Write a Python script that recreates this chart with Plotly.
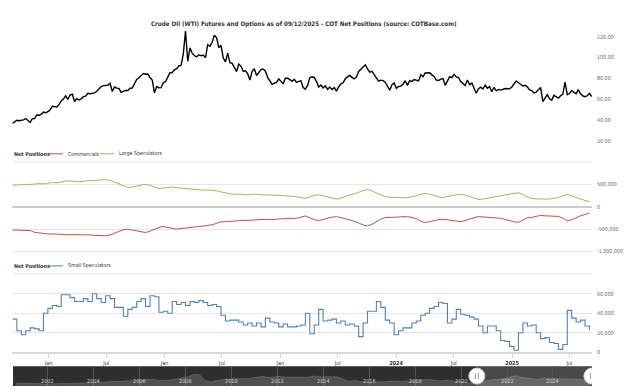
import pandas as pd
import plotly.graph_objects as go

# ---------------- data ----------------
# WTI price, weekly from 2020-09-08
PRICE = [
    36.8, 38.3, 39.8, 39.3, 39.6, 40.2, 41.5, 39.6, 37.7, 41.4, 41.4, 44.9, 44.6, 45.6, 47.6, 47.0, 48.0,
    49.9, 53.2, 52.9, 52.6, 54.8, 58.4, 60.1, 63.2, 59.8, 64.0, 64.8, 57.8, 60.6, 59.3, 60.2, 62.4, 62.9,
    65.7, 65.3, 65.5, 66.1, 67.7, 70.0, 72.1, 73.1, 73.5, 73.4, 75.3, 67.4, 71.7, 70.6, 70.4, 66.6, 67.5,
    68.5, 68.4, 70.5, 70.6, 75.3, 78.9, 80.6, 83.0, 84.7, 84.0, 84.2, 80.8, 78.5, 66.2, 72.1, 70.9, 71.1, 76.0,
    77.0, 81.2, 85.4, 85.6, 88.2, 89.4, 92.1, 92.4, 103.4, 125.5, 96.4, 109.3, 104.2, 102.0, 100.6, 102.6,
    101.7, 102.4, 99.8, 112.4, 110.8, 114.7, 121.5, 118.9, 109.5, 111.8, 99.5, 95.8, 104.2, 95.0, 94.4, 90.5,
    86.5, 93.7, 91.6, 86.9, 87.3, 84.5, 78.5, 86.5, 89.4, 82.8, 85.3, 88.4, 89.0, 86.9, 81.0, 78.2, 74.3,
    75.4, 76.2, 79.5,
    76.9, 75.1, 80.2, 80.1, 78.9, 77.1, 79.1, 76.2, 77.1, 77.6, 71.3, 69.7, 73.2, 80.7, 81.5, 80.9, 77.1,
    71.7, 73.7, 70.9, 72.9, 69.5, 71.7, 69.4, 71.2, 67.7, 71.8, 74.8, 75.8, 79.6, 81.4, 82.9, 81.0, 79.6,
    81.2, 86.7, 88.8, 91.2, 93.0, 89.2, 86.0, 86.7, 83.7, 81.0, 77.4, 78.3, 77.8, 76.4, 72.3, 68.6, 73.9, 75.6,
    70.4, 72.2, 72.6, 74.4, 77.8, 73.3, 77.9, 77.0, 78.9, 78.2, 77.6, 83.5, 81.6, 85.2, 85.2, 85.4, 83.4,
    81.9, 78.4, 78.0, 79.3, 79.8, 73.3, 78.0, 81.6, 80.8, 83.9, 81.4, 80.8, 77.0, 74.7, 73.2, 78.4, 74.0,
    75.5, 70.3, 65.8, 70.1, 71.6, 69.8, 73.6, 70.6, 72.1, 67.2, 71.5, 68.1, 69.4, 68.8, 69.9, 70.3, 70.1,
    70.1, 71.7,
    74.3, 77.5, 75.8, 73.8, 72.7, 73.3, 71.9, 68.9, 68.3, 66.0, 66.9, 69.0, 71.2, 57.6, 61.3, 64.3, 60.4,
    59.1, 63.7, 62.6, 61.0, 63.4, 65.0, 76.5, 64.4, 65.5, 68.3, 66.5, 65.3, 69.2, 65.2, 63.2, 62.4, 63.3,
    65.6, 62.6,
]

# COT net positions (thousands of contracts), every two weeks from 2020-09-08
COMMERCIALS_K = [
    -515, -520, -510, -525, -530, -570, -590, -595, -605, -600,
    -610, -615, -626, -620, -615, -625, -630, -620, -635, -640,
    -645, -648, -630, -590, -545, -510, -500, -520, -545, -565,
    -574, -545, -500, -460, -440, -465, -490, -500, -485, -470,
    -455, -445, -440, -430, -420, -400, -370, -335, -330, -320,
    -315, -310, -307, -300, -305, -295, -285, -278, -285, -275,
    -270, -265, -260, -258, -255, -230, -204, -240, -285, -307,
    -280, -250, -230, -218, -235, -265, -293, -320, -360, -405,
    -426, -390, -330, -275, -240, -235, -225, -222, -218, -218,
    -235, -265, -320, -351, -330, -300, -285, -278, -290, -310,
    -325, -330, -305, -270, -240, -218, -225, -230, -232, -236,
    -255, -280, -310, -335, -345, -300, -245, -236, -215, -190,
    -200, -205, -210, -213, -250, -311, -290, -236, -200, -170,
    -140,
]
LARGE_SPECS_K = [
    485, 490, 480, 495, 500, 510, 522, 515, 530, 545,
    540, 560, 575, 582, 570, 560, 575, 585, 580, 595,
    600, 611, 590, 560, 520, 470, 435, 445, 470, 495,
    507, 480, 440, 411, 420, 440, 448, 430, 420, 400,
    389, 395, 385, 375, 380, 374, 360, 335, 310, 295,
    285, 290, 280, 270, 285, 280, 270, 263, 270, 260,
    255, 250, 245, 240, 230, 210, 189, 230, 262, 270,
    245, 215, 190, 174, 195, 240, 270, 290, 330, 365,
    389, 360, 310, 260, 226, 220, 210, 215, 205, 204,
    220, 250, 285, 300, 285, 250, 225, 211, 225, 250,
    270, 278, 265, 230, 195, 167, 175, 195, 215, 226,
    240, 260, 285, 305, 315, 280, 220, 189, 180, 170,
    175, 174, 185, 210, 250, 282, 250, 208, 175, 145,
    120,
]
SMALL_SPECS_K = [
    34, 22, 18, 22, 25, 24, 22, 40, 45, 48,
    47, 59, 59, 56, 52, 52, 55, 52, 60, 55,
    51, 58, 55, 46, 46, 37, 44, 46, 52, 55,
    47, 58, 57, 41, 42, 40, 52, 49, 51, 48,
    52, 51, 53, 51, 48, 49, 47, 38, 32, 33,
    33, 31, 28, 30, 27, 30, 26, 35, 31, 30,
    26, 29, 26, 26, 27, 28, 40, 19, 28, 44,
    32, 33, 34, 30, 32, 28, 29, 27, 16, 30,
    42, 42, 52, 46, 33, 30, 18, 22, 25, 25,
    30, 32, 38, 40, 45, 47, 51, 50, 30, 34,
    44, 39, 38, 36, 34, 27, 20, 27, 27, 22,
    12, 11, 6, 2, 20, 30, 27, 28, 20, 14,
    15, 10, 9, 3, 8, 43, 35, 31, 33, 27,
    23,
]

# navigator: long-history price, quarterly from Q3 2000
NAV_PRICE = [
    31.6, 31.9,
    28.8, 27.9, 26.6, 20.4, 21.6, 26.3, 28.3, 28.2, 34.0, 29.0, 30.2, 31.2,
    35.2, 38.3, 43.9, 48.3, 49.8, 53.1, 63.2, 60.0, 63.3, 70.4, 70.5, 60.0,
    58.2, 65.0, 75.4, 90.7, 97.9, 123.8, 117.9, 58.7, 42.9, 59.6, 68.2, 76.1,
    78.7, 77.8, 76.1, 85.2, 94.1, 102.6, 89.8, 94.1, 102.9, 93.4, 92.2, 88.2,
    94.4, 94.2, 105.8, 97.5, 98.7, 103.0, 97.9, 73.2, 48.6, 57.9, 46.5, 42.2,
    33.5, 45.6, 44.9, 49.3, 51.9, 48.3, 48.2, 55.4, 62.9, 68.0, 69.5, 59.6,
    54.9, 59.9, 56.4, 57.0, 45.8, 27.8, 40.9, 42.7, 58.1, 66.1, 70.6, 77.2,
    94.3, 108.4, 91.6, 82.6, 76.1, 73.8, 82.3, 78.3, 77.0, 80.6, 75.3, 70.3,
    71.4, 63.7, 65.0,
]

TITLE = "Crude Oil (WTI) Futures and Options as of 09/12/2025 - COT Net Positions (source: COTBase.com)"
XTICK_DATES = ["2021-01-01", "2021-07-01", "2022-01-01", "2022-07-01", "2023-01-01",
               "2023-07-01", "2024-01-01", "2024-07-01", "2025-01-01", "2025-07-01"]
XTICK_LABELS = ["Jan", "Jul", "Jan", "Jul", "Jan", "Jul", "<b>2024</b>", "Jul", "<b>2025</b>", "Jul"]
PRICE_TICKS = [20, 40, 60, 80, 100, 120]
POS_TICKS = [-1000000, -500000, 0, 500000]
POS_LABELS = ["-1,000,000", "-500,000", "0", "500,000"]
SMALL_TICKS = [0, 20000, 40000, 60000]
SMALL_LABELS = ["0", "20,000", "40,000", "60,000"]
NAV_YEARS = list(range(2002, 2025, 2))
VIEW_START, VIEW_END = "2020-09-08", "2025-09-10"
NAV_START, NAV_END = "2000-06-25", "2025-09-12"

# ---------------- figure ----------------
W, H = 625, 389
FONT = "Liberation Sans Narrow, DejaVu Sans Condensed, Arial Narrow, sans-serif"


def px(x):
    return x / W


def py(y):
    return 1 - y / H


price_dates = pd.date_range("2020-09-08", periods=len(PRICE), freq="7D")
cot_dates = pd.date_range("2020-09-08", periods=len(COMMERCIALS_K), freq="14D")
nav_dates = pd.date_range("2000-07-01", periods=len(NAV_PRICE), freq="QS") + pd.Timedelta(days=45)

RED, GREEN, BLUE = "#c0504d", "#9bbb59", "#4f81bd"

fig = go.Figure()
fig.add_trace(go.Scatter(x=price_dates, y=PRICE, mode="lines", name="Price",
                         line=dict(color="#000000", width=1.4), xaxis="x", yaxis="y"))
fig.add_trace(go.Scatter(x=cot_dates, y=[v * 1000 for v in COMMERCIALS_K], mode="lines",
                         name="Commercials", line=dict(color=RED, width=1), xaxis="x", yaxis="y2"))
fig.add_trace(go.Scatter(x=cot_dates, y=[v * 1000 for v in LARGE_SPECS_K], mode="lines",
                         name="Large Speculators", line=dict(color=GREEN, width=1), xaxis="x", yaxis="y2"))
fig.add_trace(go.Scatter(x=cot_dates, y=[v * 1000 for v in SMALL_SPECS_K], mode="lines",
                         name="Small Speculators", line=dict(color=BLUE, width=1.1, shape="hv"),
                         xaxis="x", yaxis="y3"))
fig.add_trace(go.Scatter(x=nav_dates, y=NAV_PRICE, mode="lines", fill="tozeroy",
                         fillcolor="rgba(255,255,255,0.16)",
                         line=dict(color="rgba(255,255,255,0.25)", width=0.6),
                         xaxis="x2", yaxis="y4"))

XD = [px(12.4), px(592)]
tickfont = dict(family=FONT, size=5.3, color="#666666")

fig.update_layout(
    width=W, height=H, margin=dict(l=0, r=0, t=0, b=0, pad=0),
    paper_bgcolor="white", plot_bgcolor="rgba(0,0,0,0)", showlegend=False,
    font=dict(family=FONT, color="#333333"),
    xaxis=dict(domain=XD, range=[VIEW_START, VIEW_END], anchor="y3", type="date",
               tickvals=XTICK_DATES, ticktext=XTICK_LABELS, tickfont=dict(family=FONT, size=5.5, color="#333333"),
               showgrid=False, zeroline=False, showline=True, linecolor="#d8d8d8", linewidth=2,
               ticks="outside", ticklen=4, tickcolor="#ccd6eb", fixedrange=True),
    xaxis2=dict(domain=XD, range=[NAV_START, NAV_END], anchor="y4", type="date",
                tickvals=[f"{y}-01-01" for y in NAV_YEARS], showticklabels=False,
                showgrid=True, gridcolor="#555555", gridwidth=1, zeroline=False, showline=False, ticks=""),
    yaxis=dict(domain=[py(145), py(25)], range=[17.14, 131.43], side="right", anchor="x",
               tickvals=PRICE_TICKS, tickformat=".2f", tickfont=tickfont,
               showgrid=False, zeroline=False, showline=False, ticks="outside", ticklen=3, tickcolor="white"),
    yaxis2=dict(domain=[py(262), py(172)], range=[-1189000, 811000], side="right", anchor="x",
                tickvals=POS_TICKS, ticktext=POS_LABELS, tickfont=tickfont,
                showgrid=True, gridcolor="#e6e6e6", gridwidth=1,
                zeroline=True, zerolinecolor="#cccccc", zerolinewidth=2,
                showline=False, ticks="outside", ticklen=3, tickcolor="white"),
    yaxis3=dict(domain=[py(355), py(282)], range=[0, 74300], side="right", anchor="x",
                tickvals=SMALL_TICKS, ticktext=SMALL_LABELS, tickfont=tickfont,
                showgrid=True, gridcolor="#e6e6e6", gridwidth=1, zeroline=False,
                showline=False, ticks="outside", ticklen=3, tickcolor="white"),
    yaxis4=dict(domain=[0, py(369)], range=[0, 210], anchor="x2", visible=False),
)

shapes = []
annotations = []

# title
annotations.append(dict(x=px(304), y=py(24), xref="paper", yref="paper", text=f"<b>{TITLE}</b>",
                        showarrow=False, xanchor="center", yanchor="middle",
                        font=dict(family=FONT, size=6.2, color="#333333")))


def legend_row(ypix, items):
    annotations.append(dict(x=px(12), y=py(ypix), xref="paper", yref="paper", text="<b>Net Positions</b>",
                            showarrow=False, xanchor="left", yanchor="middle",
                            font=dict(family=FONT, size=5.3, color="#333333")))
    for x0, x1, tx, color, label in items:
        shapes.append(dict(type="line", xref="paper", yref="paper", x0=px(x0), x1=px(x1),
                           y0=py(ypix), y1=py(ypix), line=dict(color=color, width=1)))
        annotations.append(dict(x=px(tx), y=py(ypix), xref="paper", yref="paper", text=label,
                                showarrow=False, xanchor="left", yanchor="middle",
                                font=dict(family=FONT, size=5.3, color="#333333")))


legend_row(155, [(49, 63, 66, RED, "Commercials"), (100, 114, 117, GREEN, "Large Speculators")])
legend_row(268, [(49, 63, 66, BLUE, "Small Speculators")])
for ysep in (163.3, 275.7):
    shapes.append(dict(type="line", xref="paper", yref="paper", x0=px(13), x1=px(592),
                       y0=py(ysep), y1=py(ysep), line=dict(color="#e6e6e6", width=1)))

# navigator background + selection
shapes.append(dict(type="rect", xref="paper", yref="paper", x0=px(13), x1=px(592), y0=0, y1=py(369),
                   fillcolor="#2e2e2e", line=dict(width=0), layer="below"))
shapes.append(dict(type="rect", xref="x2", yref="paper", x0=VIEW_START, x1=VIEW_END, y0=0, y1=py(369),
                   fillcolor="rgba(255,255,255,0.13)", line=dict(width=0), layer="below"))
for yr in NAV_YEARS:
    annotations.append(dict(x=f"{yr}-01-01", y=py(384), xref="x2", yref="paper", text=str(yr),
                            showarrow=False, xanchor="center", yanchor="middle",
                            font=dict(family=FONT, size=5.5, color="#d0d0d0")))
for d in (VIEW_START, VIEW_END):
    shapes.append(dict(type="circle", xref="x2", yref="paper", xsizemode="pixel", ysizemode="pixel",
                       xanchor=d, yanchor=py(379), x0=-8, x1=8, y0=-8, y1=8,
                       fillcolor="white", line=dict(color="#cccccc", width=1)))
    for off in (-1.5, 1.5):
        shapes.append(dict(type="line", xref="x2", yref="paper", xsizemode="pixel", ysizemode="pixel",
                           xanchor=d, yanchor=py(379), x0=off, x1=off, y0=-3, y1=3,
                           line=dict(color="#999999", width=1)))

fig.update_layout(shapes=shapes, annotations=annotations)
fig.write_html("out.html")
